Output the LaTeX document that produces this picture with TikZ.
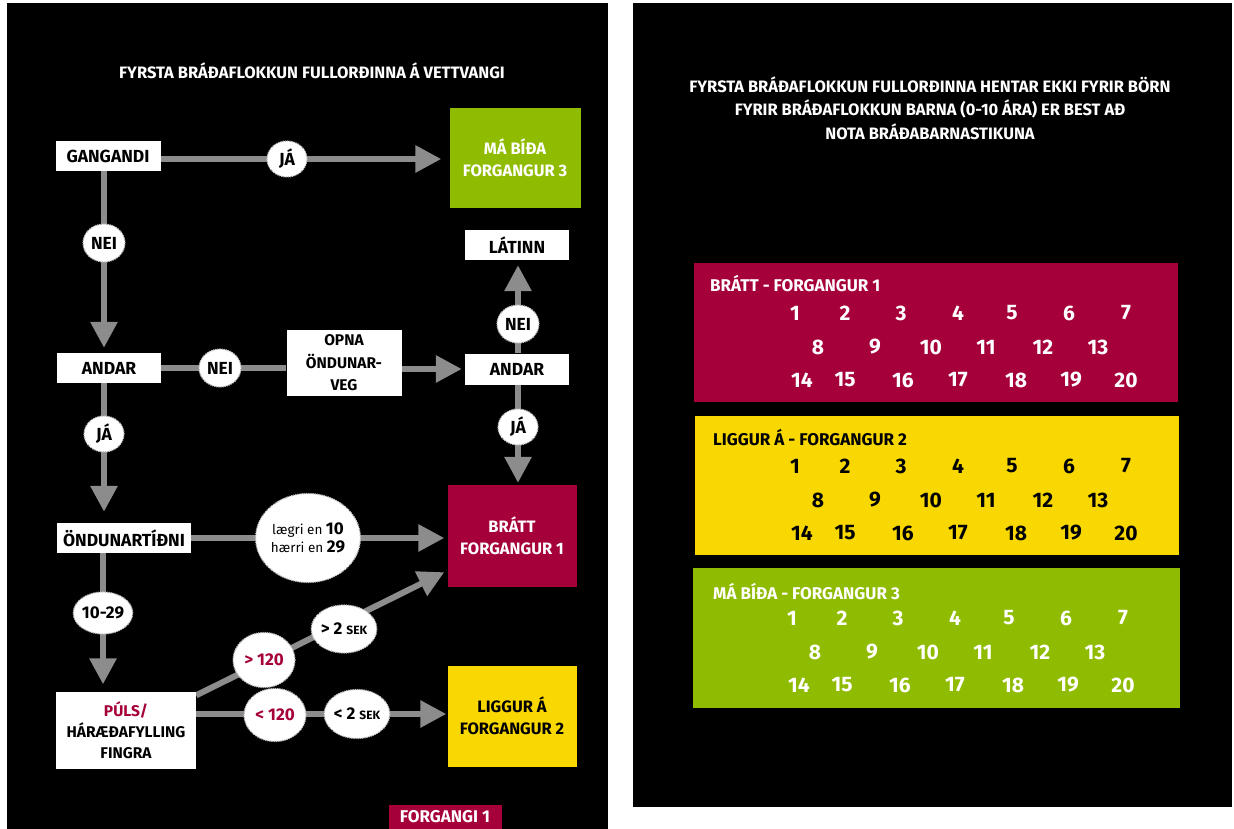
\documentclass[tikz,border=0pt]{standalone}
\usepackage{fontspec}
\setmainfont{Fira Sans}
\usetikzlibrary{arrows.meta,calc,shapes.geometric}
\definecolor{brick}{HTML}{A6003A}
\definecolor{ylw}{HTML}{F8D800}
\definecolor{grn}{HTML}{8FBC00}
\definecolor{agray}{HTML}{8C8C8C}
\pgfdeclarelayer{panel}
\pgfdeclarelayer{conn}
\pgfsetlayers{panel,conn,main}
\tikzset{
  box/.style={rectangle, inner sep=0pt, align=center, font=\bfseries\fontsize{17.5}{22}\selectfont},
  cbox/.style={box, font=\bfseries\fontsize{16.5}{22}\selectfont},
  wbox/.style={box, fill=white, text=black},
  lab/.style={ellipse, fill=white, draw=gray!55, densely dotted, line width=1.2pt, inner sep=0pt,
    align=center, text=black, font=\bfseries\fontsize{17.5}{19}\selectfont},
  arr/.style={draw=agray, line width=6pt, -{Triangle[length=26pt,width=26pt]}},
  ln/.style={draw=agray, line width=6pt},
  num/.style={font=\bfseries\fontsize{21}{23}\selectfont, inner sep=0pt},
  hdr/.style={anchor=west, font=\bfseries\fontsize{17}{19}\selectfont, inner sep=0pt},
  ttl/.style={text=white, align=center, font=\bfseries\fontsize{16.5}{23.5}\selectfont, inner sep=0pt},
  colbox/.style={inner sep=0pt, anchor=north west}
}
\newcommand\numgrid[4]{%
  \foreach \n/\xx in {1/795,2/845,3/901,4/958,5/1012,6/1069,7/1126}
    \node[num,text=#4] (#1\n) at (\xx+#2,#3+50) {\n};
  \foreach \n/\xx in {8/818,9/875,10/931,11/986,12/1043,13/1098}
    \node[num,text=#4] (#1\n) at (\xx+#2,#3+84) {\n};
  \foreach \n/\xx in {14/802,15/845,16/903,17/958,18/1016,19/1071,20/1126}
    \node[num,text=#4] (#1\n) at (\xx+#2,#3+117) {\n};
}
\begin{document}
\begin{tikzpicture}[x=1pt,y=-1pt]
\useasboundingbox (0,0) rectangle (1234,829);
\begin{pgfonlayer}{panel}
  \fill[white] (0,0) rectangle (1234,829);
  \fill[black] (7,3) rectangle (608,829);
  \fill[black] (633,3) rectangle (1232,807);
\end{pgfonlayer}

% ---------- left panel ----------
\node[ttl] (lt) at (312,71) {FYRSTA BRÁÐAFLOKKUN FULLORÐINNA Á VETTVANGI};

\node[wbox, minimum width=105pt, minimum height=30pt] (gang) at (108,156) {GANGANDI};
\node[cbox, fill=grn, text=white, minimum width=131pt, minimum height=100pt] (mab) at (515,158) {MÁ BÍÐA\\FORGANGUR 3};
\node[lab, minimum width=40pt, minimum height=36pt] (ja1) at (287,159) {JÁ};
\node[lab, minimum width=42pt, minimum height=38pt] (nei1) at (104,243) {NEI};

\node[wbox, minimum width=104pt, minimum height=30pt] (andarL) at (109,368) {ANDAR};
\node[lab, minimum width=42pt, minimum height=38pt] (nei2) at (220,368) {NEI};
\node[wbox, minimum width=115pt, minimum height=66pt, font=\bfseries\fontsize{15.5}{22.5}\selectfont] (opna) at (344,363) {OPNA\\ÖNDUNAR-\\VEG};
\node[wbox, minimum width=104pt, minimum height=31pt] (andarR) at (517,369) {ANDAR};
\node[lab, minimum width=42pt, minimum height=38pt] (nei3) at (518,324) {NEI};
\node[wbox, minimum width=104pt, minimum height=30pt] (latinn) at (517,245) {LÁTINN};

\node[lab, minimum width=40pt, minimum height=36pt] (ja2) at (104,434) {JÁ};
\node[lab, minimum width=40pt, minimum height=36pt] (ja3) at (518,427) {JÁ};

\node[wbox, minimum width=134pt, minimum height=30pt] (ondun) at (124,538) {ÖNDUNARTÍÐNI};
\node[cbox, fill=brick, text=white, minimum width=129pt, minimum height=102pt] (bratt) at (512,536) {BRÁTT\\FORGANGUR 1};
\node[lab, minimum width=90pt, minimum height=89pt, font=\fontsize{13.5}{15}\selectfont] (rate) at (308,538)
  {lægri en {\bfseries\fontsize{17}{19}\selectfont 10}\\[3pt] hærri en {\bfseries\fontsize{17}{19}\selectfont 29}};
\node[lab, minimum width=50pt, minimum height=42pt, font=\bfseries\fontsize{17}{19}\selectfont] (c1029) at (103,613) {10-29};

\node[wbox, minimum width=140pt, minimum height=77pt, font=\bfseries\fontsize{15.5}{21}\selectfont] (puls) at (126,730) {{\color{brick}PÚLS/}\\HÁRÆÐAFYLLING\\FINGRA};
\node[lab, minimum width=62pt, minimum height=55pt, text=brick, font=\bfseries\fontsize{17}{19}\selectfont] (gt120) at (264,660) {> 120};
\node[lab, minimum width=62pt, minimum height=48pt, font=\bfseries\fontsize{17}{19}\selectfont] (gt2) at (344,629) {> 2 {\fontsize{12}{14}\selectfont SEK}};
\node[lab, minimum width=62pt, minimum height=53pt, text=brick, font=\bfseries\fontsize{17}{19}\selectfont] (lt120) at (275,715) {< 120};
\node[lab, minimum width=63pt, minimum height=49pt, font=\bfseries\fontsize{17}{19}\selectfont] (lt2) at (357,714) {< 2 {\fontsize{12}{14}\selectfont SEK}};
\node[cbox, fill=ylw, text=black, minimum width=129pt, minimum height=101pt] (liggur) at (512,716) {LIGGUR Á\\FORGANGUR 2};

\node[box, fill=brick, text=white, minimum width=113pt, minimum height=24pt, font=\bfseries\fontsize{17}{19}\selectfont] (forg) at (445,817) {FORGANGI 1};

\begin{pgfonlayer}{conn}
  \draw[arr, shorten >=8pt] (gang.east |- ja1) -- (mab.west |- ja1);
  \draw[arr, shorten >=5pt] (gang.south -| nei1) -- (andarL.north -| nei1);
  \draw[ln] (andarL.east) -- (andarL.east -| opna.west);
  \draw[arr, shorten >=3pt] (opna.east |- andarR.west) -- (andarR.west);
  \draw[arr, shorten >=5pt] (andarR.north -| nei3) -- (latinn.south -| nei3);
  \draw[arr, shorten >=2pt] (andarR.south -| ja3) -- (bratt.north -| ja3);
  \draw[arr, shorten >=11pt] (andarL.south -| ja2) -- (ondun.north -| ja2);
  \draw[arr, shorten >=3pt] (ondun.east) -- (bratt.west |- ondun.east);
  \draw[arr, shorten >=7pt] (ondun.south -| c1029) -- (puls.north -| c1029);
  \draw[arr] ($(puls.north east)+(0,4)$) -- ($(bratt.south west)+(-3,-15)$);
  \draw[arr, shorten >=1pt] (puls.east |- lt2) -- (liggur.west |- lt2);
\end{pgfonlayer}

% ---------- right panel ----------
\node[ttl] (rt) at (930,108) {FYRSTA BRÁÐAFLOKKUN FULLORÐINNA HENTAR EKKI FYRIR BÖRN\\FYRIR BRÁÐAFLOKKUN BARNA (0-10 ÁRA) ER BEST AÐ\\NOTA BRÁÐABARNASTIKUNA};

\node[colbox, fill=brick, minimum width=484pt, minimum height=139pt] (rbox) at (694,263) {};
\node[colbox, fill=ylw, minimum width=484pt, minimum height=139pt] (ybox) at (695,416) {};
\node[colbox, fill=grn, minimum width=487pt, minimum height=140pt] (gbox) at (693,568) {};

\node[hdr, text=white] (rh) at (710,284) {BRÁTT - FORGANGUR 1};
\node[hdr, text=black] (yh) at (713,438) {LIGGUR Á - FORGANGUR 2};
\node[hdr, text=white] (gh) at (713,592) {MÁ BÍÐA - FORGANGUR 3};

\numgrid{r}{0}{263}{white}
\numgrid{y}{0}{416}{black}
\numgrid{g}{-3}{568}{white}
\end{tikzpicture}
\end{document}
